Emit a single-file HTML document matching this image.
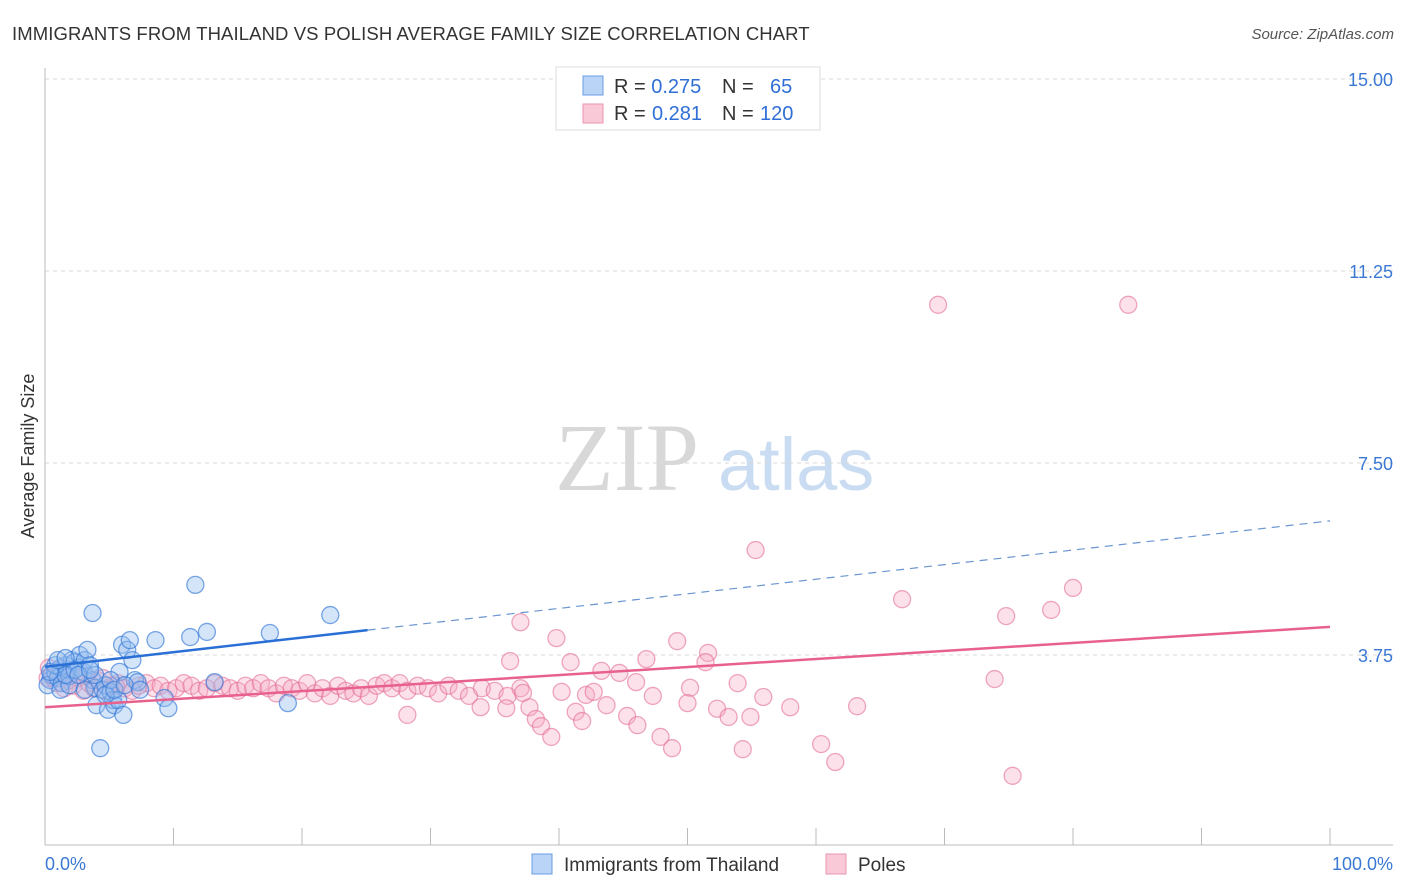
<!DOCTYPE html>
<html><head><meta charset="utf-8"><style>
body{margin:0;background:#fff;font-family:"Liberation Sans",sans-serif;}
#wrap{position:relative;width:1406px;height:892px;overflow:hidden}
</style></head><body><div id="wrap">
<svg id="svg" width="1406" height="892" xmlns="http://www.w3.org/2000/svg">
<text x="12" y="40" font-size="18.5" fill="#333" letter-spacing="0.1">IMMIGRANTS FROM THAILAND VS POLISH AVERAGE FAMILY SIZE CORRELATION CHART</text>
<text x="1394" y="39" font-size="15" fill="#555" font-style="italic" text-anchor="end">Source: ZipAtlas.com</text>
<text x="555" y="490" font-size="96" fill="#d8d8d8" font-family="Liberation Serif,serif">ZIP</text>
<text x="718" y="490" font-size="74" fill="#c9dcf2">atlas</text>
<text transform="translate(34,456) rotate(-90)" font-size="18" fill="#333" text-anchor="middle">Average Family Size</text>
<g id="grid"></g><g id="pink"></g><g id="blue"></g><g id="lines"></g>
<g>
<rect x="556" y="67" width="264" height="63" fill="#fff" stroke="#ddd"/>
<rect x="583" y="76" width="20" height="19" fill="#b9d4f7" stroke="#6a9ee3"/>
<rect x="583" y="104" width="20" height="19" fill="#f9c9d7" stroke="#ea94ae"/>
<text x="614" y="93" font-size="20" fill="#333">R = <tspan fill="#2f6fd6">0.275</tspan><tspan x="722">N =</tspan><tspan x="770" fill="#2f6fd6">65</tspan></text>
<text x="614" y="120" font-size="20" fill="#333">R = <tspan x="652" fill="#2f6fd6">0.281</tspan><tspan x="722">N =</tspan><tspan x="760" fill="#2f6fd6">120</tspan></text>
</g>
<g>
<rect x="532" y="854" width="20" height="20" fill="#b9d4f7" stroke="#6a9ee3"/>
<text x="564" y="871" font-size="19" fill="#333">Immigrants from Thailand</text>
<rect x="826" y="854" width="20" height="20" fill="#f9c9d7" stroke="#ea94ae"/>
<text x="858" y="871" font-size="19" fill="#333">Poles</text>
</g>
</svg></div>
<script>
const yTicks=[3.75,7.5,11.25,15];
const yTickLabels=["3.75","7.50","11.25","15.00"];
const xTickCount=11;
const blueX=[0.4,0.5,0.2,0.8,1.0,1.2,1.3,1.6,1.8,1.9,2.1,2.3,2.6,2.7,3.0,3.1,3.3,3.5,3.7,3.7,3.9,4.0,4.3,4.5,4.7,4.9,5.1,5.3,5.4,5.7,5.8,6.0,6.1,6.4,6.6,6.8,7.0,7.2,8.6,9.3,9.6,11.3,11.7,12.6,13.2,17.5,18.9,22.2,1.2,1.9,0.8,1.6,2.3,3.1,3.9,4.7,5.1,5.4,6.2,0.4,1.0,1.6,2.6,3.5,7.4];
const blueY=[3.26,3.36,3.16,3.42,3.30,3.50,3.20,3.55,3.46,3.34,3.65,3.61,3.50,3.75,3.42,3.65,3.85,3.55,3.26,4.57,3.11,2.77,1.93,3.07,3.16,2.68,3.03,2.87,2.77,2.87,3.42,3.95,2.58,3.85,4.04,3.65,3.26,3.22,4.04,2.91,2.71,4.10,5.12,4.20,3.22,4.18,2.81,4.53,3.07,3.16,3.55,3.36,3.46,3.07,3.36,2.97,3.26,3.07,3.16,3.42,3.65,3.69,3.36,3.46,3.07];
const pinkX=[0.3,0.6,0.9,1.2,1.5,1.8,2.2,2.6,3.0,3.4,3.8,4.2,4.7,5.2,5.7,6.2,6.8,7.3,7.9,8.5,9.0,9.6,10.2,10.8,11.4,12.0,12.6,13.2,13.8,14.4,15.0,15.6,16.2,16.8,17.4,18.0,18.6,19.2,19.8,20.4,21.0,21.6,22.2,22.8,23.4,24.0,24.6,25.2,25.8,26.4,27.0,27.6,28.2,29.0,29.8,30.6,31.4,32.2,33.0,34.0,35.0,36.0,37.0,2.0,4.5,0.2,1.0,3.2,5.5,
37.0,39.8,36.2,40.9,43.3,44.7,46.8,49.2,51.6,51.4,46.0,37.2,40.2,42.1,42.7,47.3,50.2,50.0,53.9,55.9,58.0,63.2,28.2,37.7,35.9,33.9,41.3,43.7,45.3,52.3,53.2,54.9,38.2,38.6,41.8,46.1,39.4,47.9,48.8,54.3,60.4,61.5,
55.3,69.5,84.3,80.0,78.3,74.8,66.7,73.9,75.3];
const pinkY=[3.5,3.3,3.2,3.35,3.1,3.25,3.15,3.3,3.05,3.2,3.1,3.25,3.05,3.15,3.2,3.1,3.05,3.15,3.2,3.1,3.15,3.05,3.1,3.2,3.15,3.05,3.1,3.2,3.15,3.1,3.05,3.15,3.1,3.2,3.1,3.0,3.15,3.1,3.05,3.2,3.0,3.1,2.95,3.15,3.05,3.0,3.1,2.95,3.15,3.2,3.1,3.2,3.05,3.15,3.1,3.0,3.15,3.05,2.95,3.1,3.05,2.95,3.1,3.4,3.3,3.3,3.45,3.35,3.15,
4.39,4.08,3.63,3.61,3.44,3.40,3.67,4.02,3.79,3.61,3.22,3.01,3.03,2.97,3.03,2.95,3.11,2.81,3.20,2.93,2.73,2.75,2.58,2.73,2.71,2.73,2.64,2.77,2.56,2.70,2.54,2.54,2.50,2.36,2.46,2.38,2.15,2.15,1.93,1.91,2.01,1.66,
5.80,10.59,10.59,5.06,4.63,4.51,4.84,3.28,1.39];
const blueTrend=[3.52,6.37];
const blueSolidEnd=25.1;
const pinkTrend=[2.73,4.30];
const X0=45,X1=1330,Y0=847,PY=51.2;
function sx(v){return X0+(X1-X0)*v/100;}
function sy(v){return Y0-v*PY;}
const NS="http://www.w3.org/2000/svg";
function mk(t,a,p){const e=document.createElementNS(NS,t);for(const k in a)e.setAttribute(k,a[k]);p.appendChild(e);return e;}
const grid=document.getElementById('grid');
yTicks.forEach((t,i)=>{
 const l=mk('line',{x1:X0,x2:1393,y1:sy(t),y2:sy(t),stroke:'#d8d8d8','stroke-dasharray':'4,4'},grid);
 
 
 const tx=mk('text',{x:1393,y:sy(t)+7,'text-anchor':'end','font-size':18,fill:'#3a78d4'},grid);
 tx.textContent=yTickLabels[i];
 
 
});
mk('line',{x1:X0,x2:X0,y1:68,y2:845,stroke:'#bbb'},grid);
mk('line',{x1:X0,x2:1393,y1:845,y2:845,stroke:'#bbb'},grid);
for(let i=0;i<xTickCount;i++){const x=sx(i*10);mk('line',{x1:x,x2:x,y1:828,y2:845,stroke:'#bbb'},grid);}
const xl=mk('text',{x:45,y:870,'font-size':18,fill:'#3a78d4'},grid);xl.textContent='0.0%';


const xr=mk('text',{x:1393,y:870,'font-size':18,fill:'#3a78d4','text-anchor':'end'},grid);xr.textContent='100.0%';


const pg=document.getElementById('pink');
pinkX.forEach((x,i)=>{const c=mk('circle',{cx:sx(x),cy:sy(pinkY[i]),r:8.5,fill:'rgba(246,170,195,0.35)',stroke:'rgba(226,110,150,0.6)','stroke-width':1.3},pg);
 
 });
const bg=document.getElementById('blue');
blueX.forEach((x,i)=>{const c=mk('circle',{cx:sx(x),cy:sy(blueY[i]),r:8.5,fill:'rgba(150,190,240,0.4)',stroke:'rgba(50,120,215,0.65)','stroke-width':1.3},bg);
 
 });
const lg=document.getElementById('lines');
function ty(tr,x){return tr[0]+(tr[1]-tr[0])*x/100;}
const pl=mk('line',{x1:sx(0),y1:sy(ty(pinkTrend,0)),x2:sx(100),y2:sy(ty(pinkTrend,100)),stroke:'#e8608c','stroke-width':2.5},lg);


const bl=mk('line',{x1:sx(0),y1:sy(ty(blueTrend,0)),x2:sx(blueSolidEnd),y2:sy(ty(blueTrend,blueSolidEnd)),stroke:'#2a6fd6','stroke-width':2.5},lg);


const bd=mk('line',{x1:sx(blueSolidEnd),y1:sy(ty(blueTrend,blueSolidEnd)),x2:sx(100),y2:sy(ty(blueTrend,100)),stroke:'#6a95d0','stroke-width':1.2,'stroke-dasharray':'8,6'},lg);


</script></body></html>
